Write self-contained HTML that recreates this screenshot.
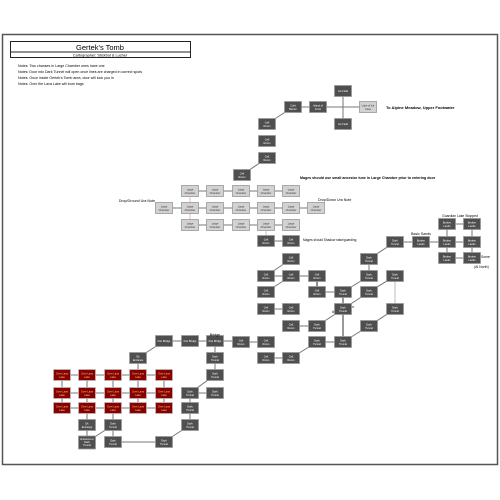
<!DOCTYPE html>
<html><head><meta charset="utf-8"><style>
html,body{margin:0;padding:0;background:#fff}
svg{display:block}
text{font-family:"Liberation Sans",sans-serif}
.d rect{fill:#4f4f4f;stroke:#999;stroke-width:.8}
.l rect{fill:#d2d2d2;stroke:#999;stroke-width:.8}
.r rect{fill:#880000;stroke:#bbb;stroke-width:.8}
.d text,.r text{fill:#fff;font-size:2.6px;text-anchor:middle}
.l text{fill:#333;font-size:2.6px;text-anchor:middle}
.r text{fill:#f5d080}
line{stroke:#777;stroke-width:1}
.t{font-size:3.6px;fill:#000}
</style></head><body>
<svg width="500" height="500" viewBox="0 0 500 500" xmlns="http://www.w3.org/2000/svg">
<rect x="2.5" y="34.5" width="495" height="430" fill="#fff" stroke="#555" stroke-width="1.5"/>
<rect x="10.5" y="41.5" width="180" height="16" fill="#fff" stroke="#222" stroke-width="1"/>
<line x1="10.5" y1="52" x2="190.5" y2="52" style="stroke:#222"/>
<text x="100" y="50" font-size="7.5" text-anchor="middle">Gertek's Tomb</text>
<text x="100" y="56.3" font-size="3.8" text-anchor="middle">Cartographer: Stickbot &amp; Lucher</text>
<text class="t" x="18" y="67">Notes: Two chanses in Large Chamber ones have one</text>
<text class="t" x="18" y="73">Notes: Door into Dark Tunnel will open once lines are charged in correct spots</text>
<text class="t" x="18" y="79">Notes: Once inside Gertek's Tomb area, door will lock you in</text>
<text class="t" x="18" y="85">Notes: Over the Lava Lake will burn bags</text>

<g>
<line x1="343" y1="91" x2="343" y2="124"/><line x1="293" y1="107" x2="368" y2="107"/>
<line x1="267" y1="124" x2="293" y2="107"/><line x1="242" y1="175" x2="267" y2="158"/>
<line x1="190" y1="191" x2="291" y2="191"/><line x1="164" y1="208" x2="316" y2="208"/><line x1="190" y1="225" x2="291" y2="225"/>
<line x1="190" y1="191" x2="190" y2="225" style="stroke:#e8b8b8"/><line x1="266" y1="225" x2="266" y2="241" style="stroke:#e8b8b8"/>
<line x1="266" y1="241" x2="291" y2="241"/><line x1="291" y1="259" x2="266" y2="276"/>
<line x1="266" y1="276" x2="317" y2="276"/><line x1="291" y1="276" x2="266" y2="292"/>
<line x1="317" y1="276" x2="317" y2="292" style="stroke:#222"/><line x1="317" y1="292" x2="343" y2="292"/>
<line x1="343" y1="292" x2="343" y2="342" style="stroke-width:1.5"/><line x1="369" y1="276" x2="343" y2="292"/>
<line x1="343" y1="309" x2="369" y2="292"/>
<line x1="369" y1="259" x2="369" y2="276"/><line x1="369" y1="259" x2="395" y2="242"/>
<line x1="395" y1="242" x2="447" y2="242"/><line x1="395" y1="276" x2="395" y2="309" style="stroke:#bbb"/>
<line x1="369" y1="292" x2="395" y2="276"/><line x1="395" y1="309" x2="369" y2="326"/>
<line x1="369" y1="326" x2="343" y2="342"/><line x1="291" y1="326" x2="317" y2="326"/>
<line x1="317" y1="326" x2="343" y2="309"/><line x1="266" y1="309" x2="291" y2="309"/>
<line x1="241" y1="342" x2="266" y2="342"/><line x1="317" y1="342" x2="343" y2="342"/>
<line x1="317" y1="342" x2="291" y2="358"/><line x1="266" y1="358" x2="291" y2="358"/>
<line x1="447" y1="224" x2="472" y2="224"/><line x1="447" y1="242" x2="472" y2="242"/><line x1="447" y1="258" x2="472" y2="258"/>
<line x1="447" y1="224" x2="447" y2="258"/><line x1="472" y1="224" x2="472" y2="258"/>
<line x1="164" y1="341" x2="241" y2="341"/><line x1="164" y1="341" x2="138" y2="358"/>
<line x1="138" y1="358" x2="138" y2="375"/><line x1="215" y1="341" x2="215" y2="375"/>
<line x1="215" y1="375" x2="190" y2="393"/><line x1="190" y1="393" x2="215" y2="393"/>
<line x1="190" y1="393" x2="190" y2="425"/><line x1="190" y1="425" x2="164" y2="442"/>
<line x1="164" y1="442" x2="113" y2="442"/><line x1="113" y1="425" x2="87" y2="442"/>
<line x1="113" y1="408" x2="113" y2="442"/><line x1="87" y1="408" x2="87" y2="442"/>
<line x1="62" y1="375" x2="164" y2="375"/><line x1="62" y1="393" x2="164" y2="393"/><line x1="62" y1="408" x2="164" y2="408"/>
<line x1="62" y1="375" x2="62" y2="408"/><line x1="87" y1="375" x2="87" y2="408"/><line x1="113" y1="375" x2="113" y2="408"/><line x1="138" y1="375" x2="138" y2="408"/><line x1="164" y1="375" x2="164" y2="408"/>
</g>

<g class="d">
<g transform="translate(343,91)"><rect x="-8.5" y="-5.5" width="17" height="11"/><text y="1">Ice Field</text></g>
<g transform="translate(343,124)"><rect x="-8.5" y="-5.5" width="17" height="11"/><text y="1">Ice Field</text></g>
<g transform="translate(318,107)"><rect x="-8.5" y="-5.5" width="17" height="11"/><text y="-.5">Island of</text><text y="3">Frost</text></g>
<g transform="translate(293,107)"><rect x="-8.5" y="-5.5" width="17" height="11"/><text y="-.5">Cold</text><text y="3">Barren</text></g>
<g transform="translate(267,124)"><rect x="-8.5" y="-5.5" width="17" height="11"/><text y="-.5">Cell</text><text y="3">Room</text></g>
<g transform="translate(267,141)"><rect x="-8.5" y="-5.5" width="17" height="11"/><text y="-.5">Cell</text><text y="3">Room</text></g>
<g transform="translate(267,158)"><rect x="-8.5" y="-5.5" width="17" height="11"/><text y="-.5">Cell</text><text y="3">Room</text></g>
<g transform="translate(242,175)"><rect x="-8.5" y="-5.5" width="17" height="11"/><text y="-.5">Cell</text><text y="3">Room</text></g>
<g transform="translate(266,241)"><rect x="-8.5" y="-5.5" width="17" height="11"/><text y="-.5">Cell</text><text y="3">Room</text></g>
<g transform="translate(291,241)"><rect x="-8.5" y="-5.5" width="17" height="11"/><text y="-.5">Cell</text><text y="3">Room</text></g>
<g transform="translate(291,259)"><rect x="-8.5" y="-5.5" width="17" height="11"/><text y="-.5">Cell</text><text y="3">Room</text></g>
<g transform="translate(266,276)"><rect x="-8.5" y="-5.5" width="17" height="11"/><text y="-.5">Cell</text><text y="3">Room</text></g>
<g transform="translate(291,276)"><rect x="-8.5" y="-5.5" width="17" height="11"/><text y="-.5">Cell</text><text y="3">Room</text></g>
<g transform="translate(317,276)"><rect x="-8.5" y="-5.5" width="17" height="11"/><text y="-.5">Cell</text><text y="3">Room</text></g>
<g transform="translate(266,292)"><rect x="-8.5" y="-5.5" width="17" height="11"/><text y="-.5">Cell</text><text y="3">Room</text></g>
<g transform="translate(317,292)"><rect x="-8.5" y="-5.5" width="17" height="11"/><text y="-.5">Cell</text><text y="3">Room</text></g>
<g transform="translate(343,292)"><rect x="-8.5" y="-5.5" width="17" height="11"/><text y="-.5">Dark</text><text y="3">Tunnel</text></g>
<g transform="translate(369,292)"><rect x="-8.5" y="-5.5" width="17" height="11"/><text y="-.5">Dark</text><text y="3">Tunnel</text></g>
<g transform="translate(369,276)"><rect x="-8.5" y="-5.5" width="17" height="11"/><text y="-.5">Dark</text><text y="3">Tunnel</text></g>
<g transform="translate(395,276)"><rect x="-8.5" y="-5.5" width="17" height="11"/><text y="-.5">Dark</text><text y="3">Tunnel</text></g>
<g transform="translate(369,259)"><rect x="-8.5" y="-5.5" width="17" height="11"/><text y="-.5">Dark</text><text y="3">Tunnel</text></g>
<g transform="translate(395,242)"><rect x="-8.5" y="-5.5" width="17" height="11"/><text y="-.5">Dark</text><text y="3">Tunnel</text></g>
<g transform="translate(421,242)"><rect x="-8.5" y="-5.5" width="17" height="11"/><text y="-.5">Broken</text><text y="3">Lands</text></g>
<g transform="translate(447,224)"><rect x="-8.5" y="-5.5" width="17" height="11"/><text y="-.5">Broken</text><text y="3">Lands</text></g>
<g transform="translate(472,224)"><rect x="-8.5" y="-5.5" width="17" height="11"/><text y="-.5">Broken</text><text y="3">Lands</text></g>
<g transform="translate(447,242)"><rect x="-8.5" y="-5.5" width="17" height="11"/><text y="-.5">Broken</text><text y="3">Lands</text></g>
<g transform="translate(472,242)"><rect x="-8.5" y="-5.5" width="17" height="11"/><text y="-.5">Broken</text><text y="3">Lands</text></g>
<g transform="translate(447,258)"><rect x="-8.5" y="-5.5" width="17" height="11"/><text y="-.5">Broken</text><text y="3">Lands</text></g>
<g transform="translate(472,258)"><rect x="-8.5" y="-5.5" width="17" height="11"/><text y="-.5">Broken</text><text y="3">Lands</text></g>
<g transform="translate(266,309)"><rect x="-8.5" y="-5.5" width="17" height="11"/><text y="-.5">Cell</text><text y="3">Room</text></g>
<g transform="translate(291,309)"><rect x="-8.5" y="-5.5" width="17" height="11"/><text y="-.5">Cell</text><text y="3">Room</text></g>
<g transform="translate(343,309)"><rect x="-8.5" y="-5.5" width="17" height="11"/><text y="-.5">Dark</text><text y="3">Tunnel</text></g>
<g transform="translate(395,309)"><rect x="-8.5" y="-5.5" width="17" height="11"/><text y="-.5">Dark</text><text y="3">Tunnel</text></g>
<g transform="translate(291,326)"><rect x="-8.5" y="-5.5" width="17" height="11"/><text y="-.5">Cell</text><text y="3">Room</text></g>
<g transform="translate(317,326)"><rect x="-8.5" y="-5.5" width="17" height="11"/><text y="-.5">Dark</text><text y="3">Tunnel</text></g>
<g transform="translate(369,326)"><rect x="-8.5" y="-5.5" width="17" height="11"/><text y="-.5">Dark</text><text y="3">Tunnel</text></g>
<g transform="translate(241,342)"><rect x="-8.5" y="-5.5" width="17" height="11"/><text y="-.5">Cell</text><text y="3">Room</text></g>
<g transform="translate(266,342)"><rect x="-8.5" y="-5.5" width="17" height="11"/><text y="-.5">Cell</text><text y="3">Room</text></g>
<g transform="translate(317,342)"><rect x="-8.5" y="-5.5" width="17" height="11"/><text y="-.5">Dark</text><text y="3">Tunnel</text></g>
<g transform="translate(343,342)"><rect x="-8.5" y="-5.5" width="17" height="11"/><text y="-.5">Dark</text><text y="3">Tunnel</text></g>
<g transform="translate(266,358)"><rect x="-8.5" y="-5.5" width="17" height="11"/><text y="-.5">Cell</text><text y="3">Room</text></g>
<g transform="translate(291,358)"><rect x="-8.5" y="-5.5" width="17" height="11"/><text y="-.5">Cell</text><text y="3">Room</text></g>
<g transform="translate(164,341)"><rect x="-8.5" y="-5.5" width="17" height="11"/><text y="1">Fire Bridge</text></g>
<g transform="translate(190,341)"><rect x="-8.5" y="-5.5" width="17" height="11"/><text y="1">Fire Bridge</text></g>
<g transform="translate(215,341)"><rect x="-8.5" y="-5.5" width="17" height="11"/><text y="1">Fire Bridge</text></g>
<g transform="translate(138,358)"><rect x="-8.5" y="-5.5" width="17" height="11"/><text y="-.5">Dk</text><text y="3">Entrance</text></g>
<g transform="translate(215,358)"><rect x="-8.5" y="-5.5" width="17" height="11"/><text y="-.5">Dark</text><text y="3">Tunnel</text></g>
<g transform="translate(215,375)"><rect x="-8.5" y="-5.5" width="17" height="11"/><text y="-.5">Dark</text><text y="3">Tunnel</text></g>
<g transform="translate(215,393)"><rect x="-8.5" y="-5.5" width="17" height="11"/><text y="-.5">Dark</text><text y="3">Tunnel</text></g>
<g transform="translate(190,393)"><rect x="-8.5" y="-5.5" width="17" height="11"/><text y="-.5">Dark</text><text y="3">Tunnel</text></g>
<g transform="translate(190,408)"><rect x="-8.5" y="-5.5" width="17" height="11"/><text y="-.5">Dark</text><text y="3">Tunnel</text></g>
<g transform="translate(190,425)"><rect x="-8.5" y="-5.5" width="17" height="11"/><text y="-.5">Dark</text><text y="3">Tunnel</text></g>
<g transform="translate(164,442)"><rect x="-8.5" y="-5.5" width="17" height="11"/><text y="-.5">Dark</text><text y="3">Tunnel</text></g>
<g transform="translate(113,425)"><rect x="-8.5" y="-5.5" width="17" height="11"/><text y="-.5">Dark</text><text y="3">Tunnel</text></g>
<g transform="translate(113,442)"><rect x="-8.5" y="-5.5" width="17" height="11"/><text y="-.5">Dark</text><text y="3">Tunnel</text></g>
<g transform="translate(87,425)"><rect x="-8.5" y="-5.5" width="17" height="11"/><text y="-.5">Dk</text><text y="3">Entrange</text></g>
<g transform="translate(87,442)"><rect x="-8.5" y="-6" width="17" height="13"/><text y="-2">Entrance to</text><text y="1">Dark</text><text y="4">Tunnel</text></g>
</g>

<g class="l">
<g transform="translate(368,107)"><rect x="-8.5" y="-5.5" width="17" height="11"/><text y="-.5">Lake of Ice</text><text y="3">Cave</text></g>
<g transform="translate(190,191)"><rect x="-8.5" y="-5.5" width="17" height="11"/><text y="-.5">Large</text><text y="3">Chamber</text></g>
<g transform="translate(215,191)"><rect x="-8.5" y="-5.5" width="17" height="11"/><text y="-.5">Large</text><text y="3">Chamber</text></g>
<g transform="translate(241,191)"><rect x="-8.5" y="-5.5" width="17" height="11"/><text y="-.5">Large</text><text y="3">Chamber</text></g>
<g transform="translate(266,191)"><rect x="-8.5" y="-5.5" width="17" height="11"/><text y="-.5">Large</text><text y="3">Chamber</text></g>
<g transform="translate(291,191)"><rect x="-8.5" y="-5.5" width="17" height="11"/><text y="-.5">Large</text><text y="3">Chamber</text></g>
<g transform="translate(164,208)"><rect x="-8.5" y="-5.5" width="17" height="11"/><text y="-.5">Large</text><text y="3">Chamber</text></g>
<g transform="translate(190,208)"><rect x="-8.5" y="-5.5" width="17" height="11"/><text y="-.5">Large</text><text y="3">Chamber</text></g>
<g transform="translate(215,208)"><rect x="-8.5" y="-5.5" width="17" height="11"/><text y="-.5">Large</text><text y="3">Chamber</text></g>
<g transform="translate(241,208)"><rect x="-8.5" y="-5.5" width="17" height="11"/><text y="-.5">Large</text><text y="3">Chamber</text></g>
<g transform="translate(266,208)"><rect x="-8.5" y="-5.5" width="17" height="11"/><text y="-.5">Large</text><text y="3">Chamber</text></g>
<g transform="translate(291,208)"><rect x="-8.5" y="-5.5" width="17" height="11"/><text y="-.5">Large</text><text y="3">Chamber</text></g>
<g transform="translate(316,208)"><rect x="-8.5" y="-5.5" width="17" height="11"/><text y="-.5">Large</text><text y="3">Chamber</text></g>
<g transform="translate(190,225)"><rect x="-8.5" y="-5.5" width="17" height="11"/><text y="-.5">Large</text><text y="3">Chamber</text></g>
<g transform="translate(215,225)"><rect x="-8.5" y="-5.5" width="17" height="11"/><text y="-.5">Large</text><text y="3">Chamber</text></g>
<g transform="translate(241,225)"><rect x="-8.5" y="-5.5" width="17" height="11"/><text y="-.5">Large</text><text y="3">Chamber</text></g>
<g transform="translate(266,225)"><rect x="-8.5" y="-5.5" width="17" height="11"/><text y="-.5">Large</text><text y="3">Chamber</text></g>
<g transform="translate(291,225)"><rect x="-8.5" y="-5.5" width="17" height="11"/><text y="-.5">Large</text><text y="3">Chamber</text></g>
</g>

<g class="r">
<g transform="translate(62,375)"><rect x="-8.5" y="-5.5" width="17" height="11"/><text y="-.5">Over Lava</text><text y="3">Lake</text></g>
<g transform="translate(87,375)"><rect x="-8.5" y="-5.5" width="17" height="11"/><text y="-.5">Over Lava</text><text y="3">Lake</text></g>
<g transform="translate(113,375)"><rect x="-8.5" y="-5.5" width="17" height="11"/><text y="-.5">Over Lava</text><text y="3">Lake</text></g>
<g transform="translate(138,375)"><rect x="-8.5" y="-5.5" width="17" height="11"/><text y="-.5">Over Lava</text><text y="3">Lake</text></g>
<g transform="translate(164,375)"><rect x="-8.5" y="-5.5" width="17" height="11"/><text y="-.5">Over Lava</text><text y="3">Lake</text></g>
<g transform="translate(62,393)"><rect x="-8.5" y="-5.5" width="17" height="11"/><text y="-.5">Over Lava</text><text y="3">Lake</text></g>
<g transform="translate(87,393)"><rect x="-8.5" y="-5.5" width="17" height="11"/><text y="-.5">Over Lava</text><text y="3">Lake</text></g>
<g transform="translate(113,393)"><rect x="-8.5" y="-5.5" width="17" height="11"/><text y="-.5">Over Lava</text><text y="3">Lake</text></g>
<g transform="translate(138,393)"><rect x="-8.5" y="-5.5" width="17" height="11"/><text y="-.5">Over Lava</text><text y="3">Lake</text></g>
<g transform="translate(164,393)"><rect x="-8.5" y="-5.5" width="17" height="11"/><text y="-.5">Over Lava</text><text y="3">Lake</text></g>
<g transform="translate(62,408)"><rect x="-8.5" y="-5.5" width="17" height="11"/><text y="-.5">Over Lava</text><text y="3">Lake</text></g>
<g transform="translate(87,408)"><rect x="-8.5" y="-5.5" width="17" height="11"/><text y="-.5">Over Lava</text><text y="3">Lake</text></g>
<g transform="translate(113,408)"><rect x="-8.5" y="-5.5" width="17" height="11"/><text y="-.5">Over Lava</text><text y="3">Lake</text></g>
<g transform="translate(138,408)"><rect x="-8.5" y="-5.5" width="17" height="11"/><text y="-.5">Over Lava</text><text y="3">Lake</text></g>
<g transform="translate(164,408)"><rect x="-8.5" y="-5.5" width="17" height="11"/><text y="-.5">Over Lava</text><text y="3">Lake</text></g>
</g>

<text x="386" y="109" font-size="4" font-weight="bold">To Alpine Meadow, Upper Footwater</text>
<text x="300" y="179" font-size="3.6" font-weight="bold">Mages should use small ancestor tune in Large Chamber prior to entering door</text>
<text x="155" y="202" font-size="3.6" text-anchor="end">Drop/Ground Ura Note</text>
<text x="318" y="201" font-size="3.6">Drop/Down Ura Note</text>
<text x="303" y="241" font-size="3.2">Mages should Shadow raise/guarding</text>
<text x="215" y="336" font-size="3.6" text-anchor="middle">Bridge</text>
<text x="421" y="235" font-size="3.6" text-anchor="middle">Basic Sands</text>
<text x="460" y="217" font-size="3.4" text-anchor="middle">Guardian Lake Stopped</text>
<text x="481" y="258" font-size="3.4">Some</text>
<text x="474" y="268" font-size="3.4">(At North)</text>
<text x="352" y="308" font-size="4">x</text>
<text x="332" y="313" font-size="4">#</text>
</svg>
</body></html>
